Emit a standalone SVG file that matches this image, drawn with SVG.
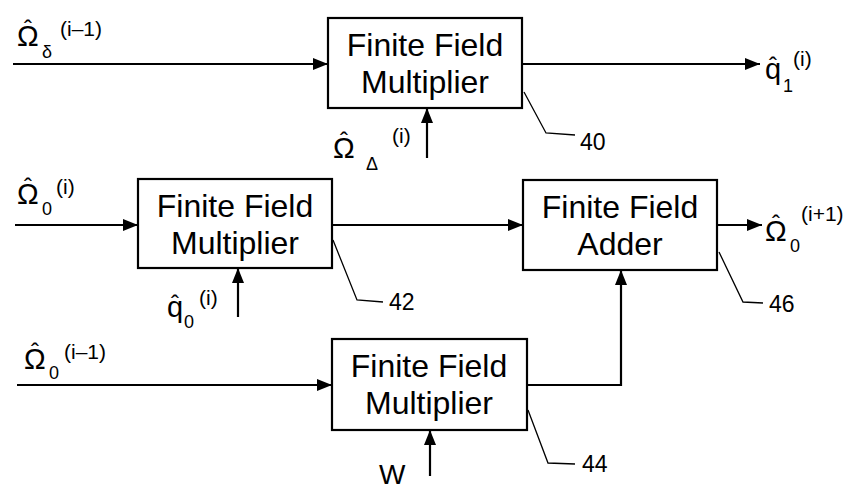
<svg xmlns="http://www.w3.org/2000/svg" width="859" height="491" viewBox="0 0 859 491">
<style>
.box{fill:#fff;stroke:#000;stroke-width:2.2}
.bt{font-family:"Liberation Sans",Arial,sans-serif;font-size:32px;fill:#000;text-anchor:middle}
.ln{fill:none;stroke:#000;stroke-width:2.2}
.ld{fill:none;stroke:#000;stroke-width:1.3}
.num{font-family:"Liberation Sans",Arial,sans-serif;font-size:23px;fill:#000}
.sym{font-family:"Liberation Sans",Arial,sans-serif;font-size:29px;fill:#000}
.hat{font-size:24px}
.sub{font-size:18px}
.sup{font-size:21px}
</style>
<defs>
<marker id="ah" markerUnits="userSpaceOnUse" markerWidth="16" markerHeight="12" refX="15" refY="6" orient="auto">
<path d="M0,0 L15,6 L0,12 Z" fill="#000"/>
</marker>
</defs>
<g id="connectors">
<line class="ln" x1="13" y1="64" x2="328" y2="64" marker-end="url(#ah)"/>
<line class="ln" x1="522" y1="64" x2="760" y2="64" marker-end="url(#ah)"/>
<line class="ln" x1="427" y1="158" x2="427" y2="108" marker-end="url(#ah)"/>
<line class="ln" x1="15" y1="225" x2="138" y2="225" marker-end="url(#ah)"/>
<line class="ln" x1="332" y1="225" x2="523" y2="225" marker-end="url(#ah)"/>
<line class="ln" x1="717" y1="225" x2="762" y2="225" marker-end="url(#ah)"/>
<line class="ln" x1="238" y1="317" x2="238" y2="268" marker-end="url(#ah)"/>
<line class="ln" x1="17" y1="385" x2="332" y2="385" marker-end="url(#ah)"/>
<polyline class="ln" points="527,385 621,385 621,270" marker-end="url(#ah)"/>
<line class="ln" x1="430" y1="476" x2="430" y2="430" marker-end="url(#ah)"/>
<polyline class="ld" points="524,92 546,133 575,135"/>
<polyline class="ld" points="333,240 357,300 383,302"/>
<polyline class="ld" points="719,252 743,302 763,303"/>
<polyline class="ld" points="528,410 548,463 575,464"/>
</g>
<g id="n40">
<rect class="box" x="328" y="18" width="194" height="90"/>
<text class="bt" x="425" y="56">Finite Field</text>
<text class="bt" x="425" y="93">Multiplier</text>
<text class="num" x="580" y="150">40</text>
</g>
<g id="n42">
<rect class="box" x="138" y="179" width="194" height="89"/>
<text class="bt" x="235" y="217">Finite Field</text>
<text class="bt" x="235" y="254">Multiplier</text>
<text class="num" x="389" y="310">42</text>
</g>
<g id="n46">
<rect class="box" x="523" y="180" width="194" height="90"/>
<text class="bt" x="620" y="218">Finite Field</text>
<text class="bt" x="620" y="255">Adder</text>
<text class="num" x="769" y="312">46</text>
</g>
<g id="n44">
<rect class="box" x="332" y="339" width="195" height="91"/>
<text class="bt" x="429" y="377">Finite Field</text>
<text class="bt" x="429" y="414">Multiplier</text>
<text class="num" x="582" y="472">44</text>
</g>
<g id="labels">
<text class="sym" x="17" y="46">Ω<tspan class="hat" x="24" y="37">ˆ</tspan><tspan class="sub" x="42" y="58">δ</tspan><tspan class="sup" x="60" y="36">(i–1)</tspan></text>
<text class="sym" x="333" y="158">Ω<tspan class="hat" x="340" y="149">ˆ</tspan><tspan class="sub" x="366" y="170">Δ</tspan><tspan class="sup" x="392" y="143">(i)</tspan></text>
<text class="sym" x="765" y="79">q<tspan class="hat" x="769" y="74">ˆ</tspan><tspan class="sub" x="783" y="92">1</tspan><tspan class="sup" x="793" y="66">(i)</tspan></text>
<text class="sym" x="17" y="204">Ω<tspan class="hat" x="24" y="195">ˆ</tspan><tspan class="sub" x="42" y="215">0</tspan><tspan class="sup" x="56" y="194">(i)</tspan></text>
<text class="sym" x="167" y="317">q<tspan class="hat" x="171" y="312">ˆ</tspan><tspan class="sub" x="184" y="328">0</tspan><tspan class="sup" x="199" y="305">(i)</tspan></text>
<text class="sym" x="24" y="369">Ω<tspan class="hat" x="31" y="360">ˆ</tspan><tspan class="sub" x="49" y="379">0</tspan><tspan class="sup" x="64" y="359">(i–1)</tspan></text>
<text class="sym" x="765" y="241">Ω<tspan class="hat" x="772" y="232">ˆ</tspan><tspan class="sub" x="790" y="252">0</tspan><tspan class="sup" x="801" y="221">(i+1)</tspan></text>
<text class="sym" x="379" y="484" style="font-size:28px">W</text>
</g>
</svg>
